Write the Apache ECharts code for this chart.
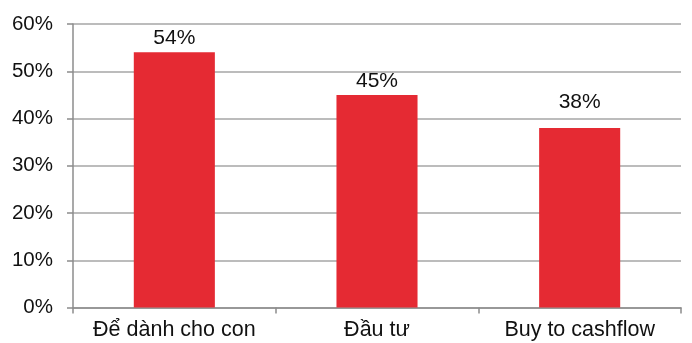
<!DOCTYPE html>
<html>
<head>
<meta charset="utf-8">
<script src="https://cdn.jsdelivr.net/npm/echarts@6/dist/echarts.min.js"></script>
<style>
  html, body { margin: 0; padding: 0; background: #ffffff; }
  #chart { width: 692px; height: 343px; }
</style>
</head>
<body>
<div id="chart"></div>
<script>
// Categories and shares (percent)
var categories = ['Để dành cho con', 'Đầu tư', 'Buy to cashflow'];
var shares = [54, 45, 38];
// Gap between each value label and its bar top
var labelGaps = [4, 3, 15];
// Y-axis ticks
var yTicks = [0, 10, 20, 30, 40, 50, 60];

var FONT = '"Liberation Sans", Arial, sans-serif';

var chart = echarts.init(document.getElementById('chart'), null, { renderer: 'canvas' });

chart.setOption({
  animation: false,
  backgroundColor: '#ffffff',
  grid: { left: 73, right: 11, top: 24, bottom: 35.5, containLabel: false },
  xAxis: {
    type: 'category',
    data: categories,
    axisLine: { show: true, lineStyle: { color: '#8c8c8c', width: 1.5 } },
    axisTick: { show: true, interval: 0, alignWithLabel: false, length: 6, lineStyle: { color: '#8c8c8c', width: 1.5 } },
    axisLabel: { interval: 0, hideOverlap: false, color: '#111111', fontFamily: FONT, fontSize: 21.5, margin: 12 }
  },
  yAxis: {
    type: 'value',
    min: yTicks[0],
    max: yTicks[yTicks.length - 1],
    interval: 10,
    axisLine: { show: true, lineStyle: { color: '#8c8c8c', width: 1.5 } },
    axisTick: { show: true, length: 6, lineStyle: { color: '#8c8c8c', width: 1.5 } },
    axisLabel: { color: '#111111', fontFamily: FONT, fontSize: 20.5, margin: 20, formatter: '{value}%' },
    splitLine: { show: true, lineStyle: { color: '#a6a6a6', width: 1.5 } }
  },
  series: [{
    type: 'bar',
    barWidth: '40%',
    itemStyle: { color: '#e52a33' },
    data: shares.map(function (v, i) {
      return {
        value: v,
        label: { distance: labelGaps[i] }
      };
    }),
    label: {
      show: true,
      position: 'top',
      color: '#111111',
      fontFamily: FONT,
      fontSize: 21,
      formatter: '{c}%'
    }
  }]
});
</script>
</body>
</html>
